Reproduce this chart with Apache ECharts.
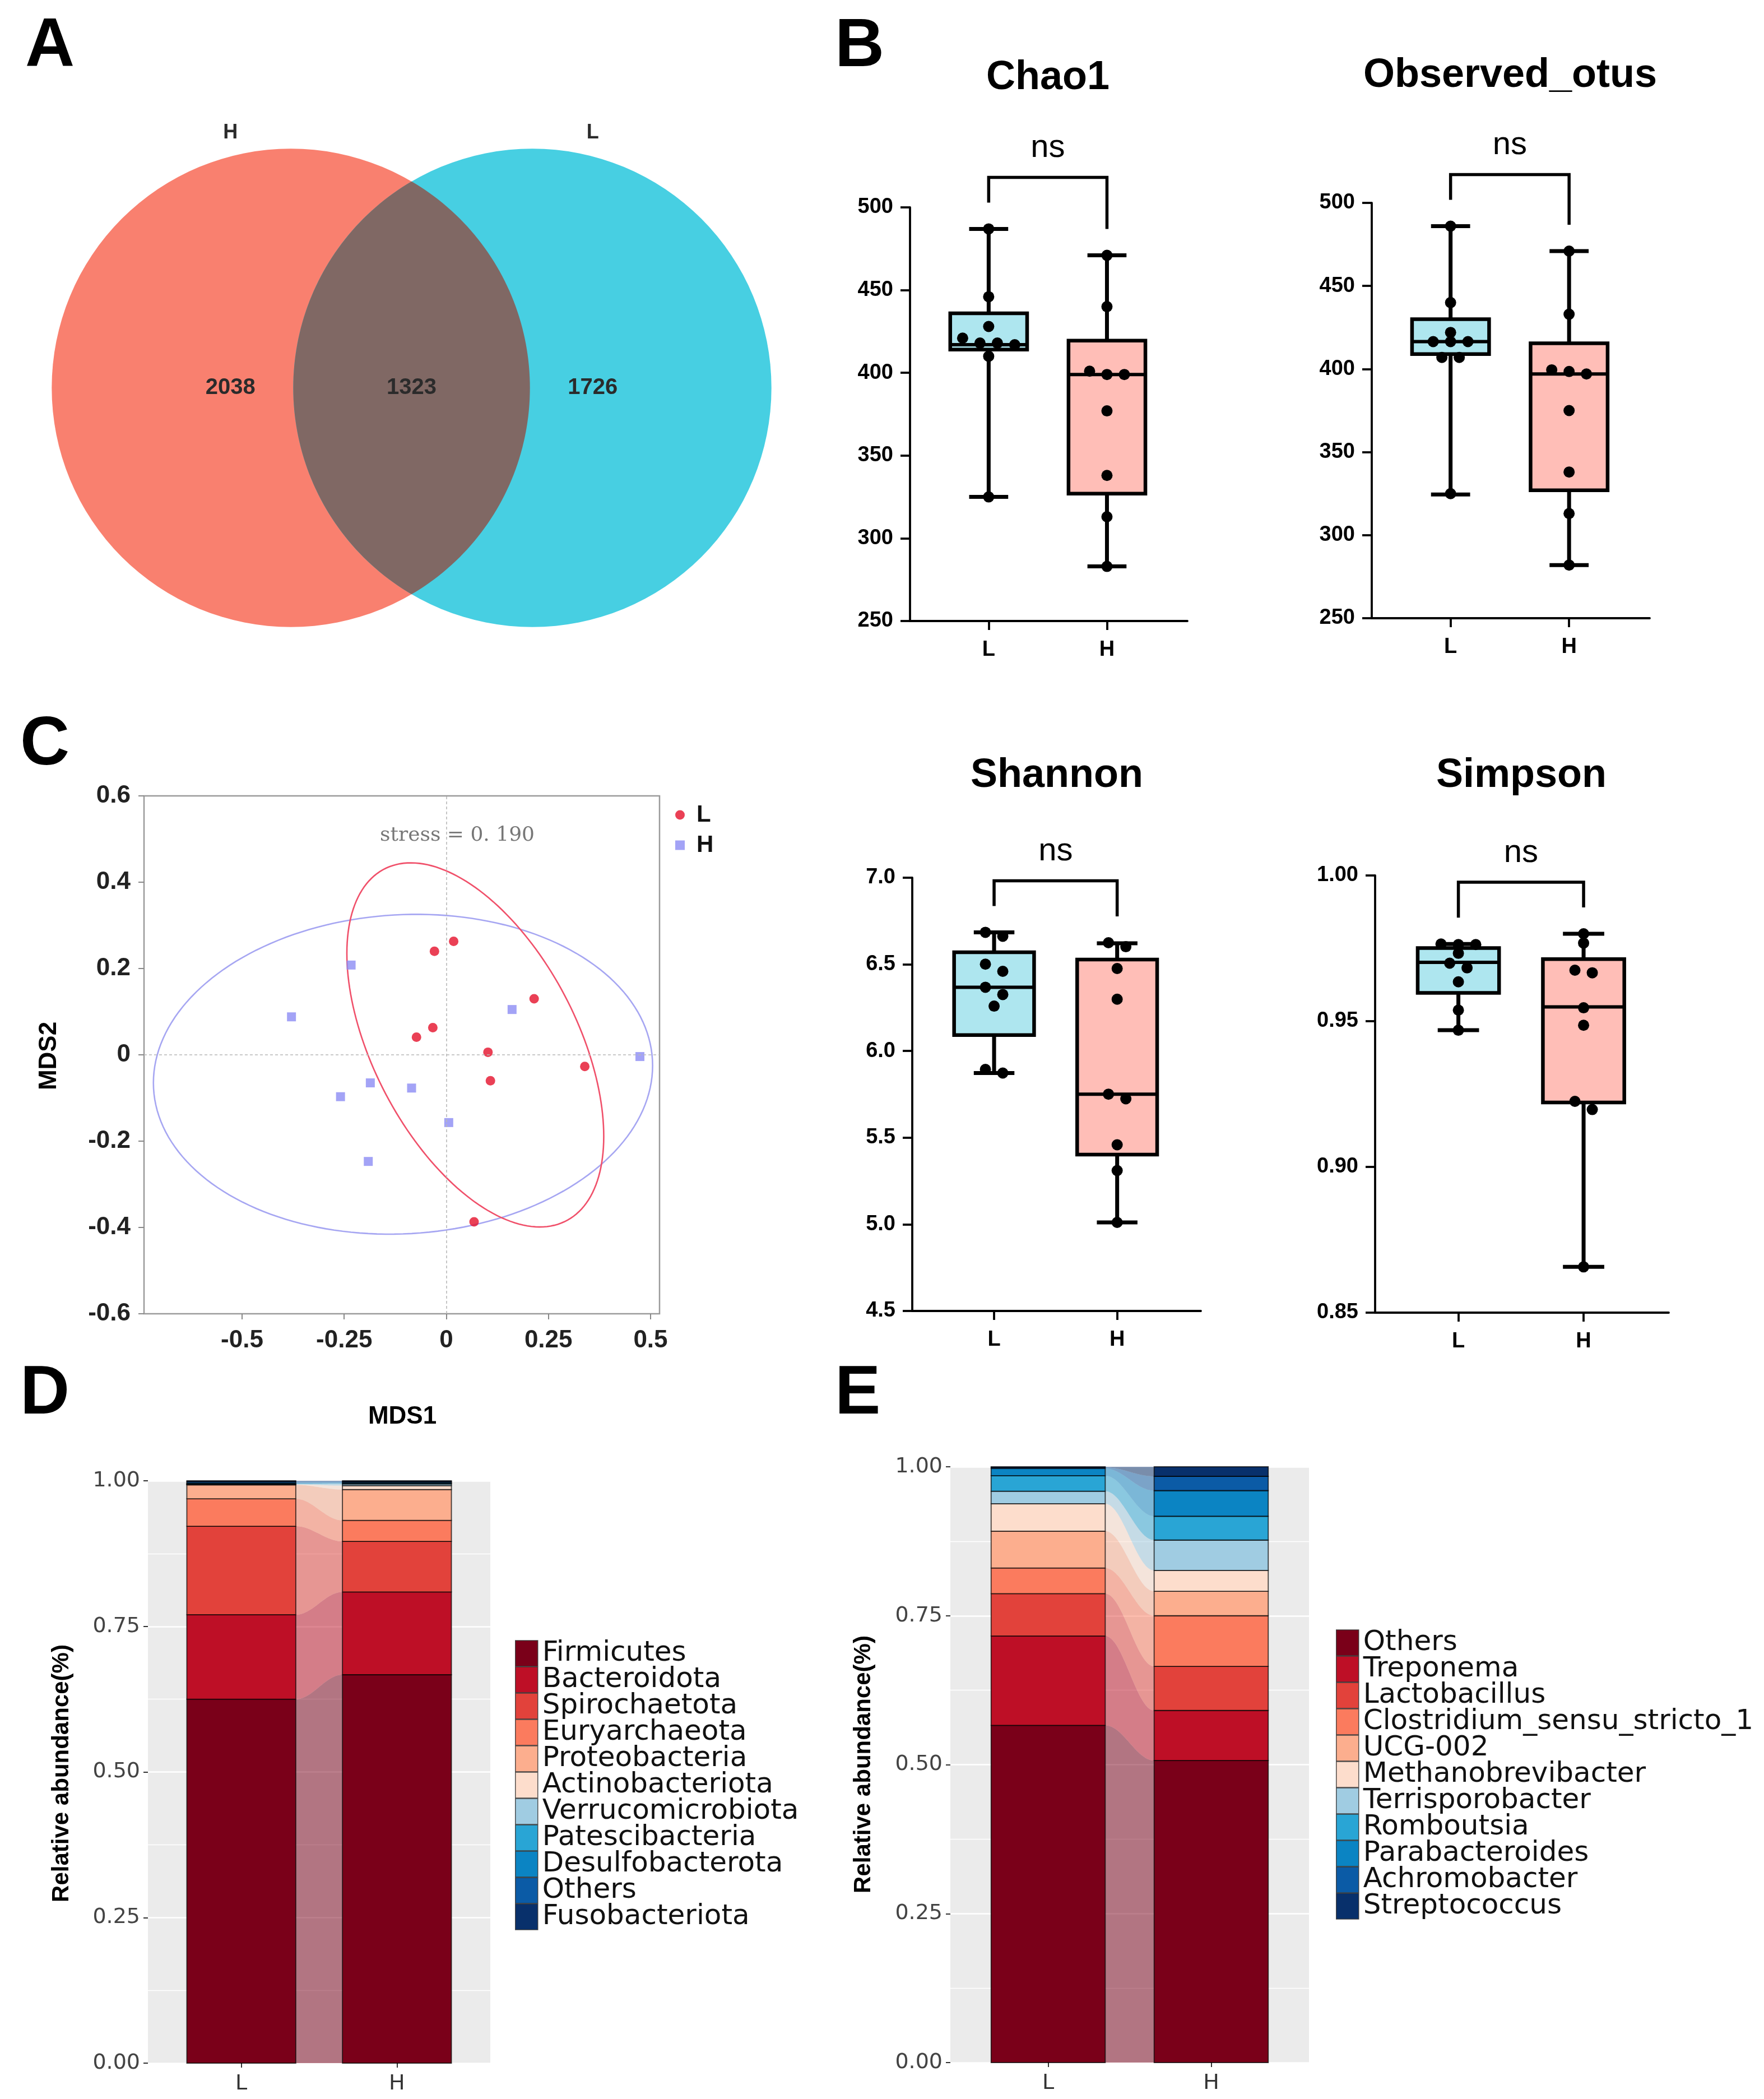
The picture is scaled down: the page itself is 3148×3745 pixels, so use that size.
<!DOCTYPE html>
<html><head><meta charset="utf-8">
<script src="https://cdn.jsdelivr.net/npm/echarts@6/dist/echarts.min.js"></script>
<style>html,body{margin:0;padding:0;background:#fff}#c{width:3148px;height:3745px}</style>
</head><body><div id="c"></div><script>
// ================= DATA =================
const vennSets = ['H', 'L'];
const vennCounts = [2038, 1323, 1726]; // H only, shared, L only

const groups = ['L', 'H'];
// box stats: [min, q1, median, q3, max]
const chaoBox = [[325, 414, 417, 436, 487], [283, 327, 399, 419.5, 471]];
const chaoL = [487, 446, 428, 418, 421, 417, 418, 410, 325];
const chaoH = [471, 440, 399, 401, 399, 377, 338, 313, 283];
const chaoTicks = [250, 300, 350, 400, 450, 500];

const obsBox = [[324.5, 409, 416.5, 430, 486], [282, 327, 397, 415.5, 471]];
const obsL = [486, 440, 422, 416.5, 416.5, 416.5, 407, 407, 325];
const obsH = [471, 433, 397, 399.5, 398.5, 375, 338, 313, 282];
const obsTicks = [250, 300, 350, 400, 450, 500];

const shanBox = [[5.873, 6.092, 6.368, 6.570, 6.685], [5.011, 5.402, 5.751, 6.528, 6.622]];
const shanL = [6.685, 6.662, 6.501, 6.460, 6.368, 6.326, 6.259, 5.894, 5.873];
const shanH = [6.625, 6.602, 6.476, 6.299, 5.751, 5.724, 5.459, 5.310, 5.011];
const shanTicks = [4.5, 5.0, 5.5, 6.0, 6.5, 7.0];

const simpBox = [[0.9469, 0.9597, 0.9702, 0.9751, 0.9765], [0.8657, 0.9221, 0.9549, 0.9713, 0.980]];
const simpL = [0.9765, 0.9763, 0.9763, 0.9733, 0.9699, 0.9683, 0.9635, 0.9538, 0.9469];
const simpH = [0.980, 0.9768, 0.9675, 0.9666, 0.9546, 0.9486, 0.9225, 0.9197, 0.8657];
const simpTicks = [0.85, 0.90, 0.95, 1.00];

const nmdsL = [[0.018, 0.263], [-0.029, 0.24], [0.215, 0.13], [-0.033, 0.063], [-0.073, 0.041],
               [0.102, 0.006], [0.108, -0.06], [0.339, -0.027], [0.068, -0.387]];
const nmdsH = [[-0.233, 0.208], [-0.379, 0.088], [0.161, 0.105], [0.474, -0.004], [-0.186, -0.065],
               [-0.085, -0.077], [-0.259, -0.097], [0.006, -0.157], [-0.191, -0.247]];
// ellipse: [cx, cy, axis1x, axis1y, axis2x, axis2y]
const ellipseL = [0.071, 0.023, 0.210, -0.413, 0.234, 0.086];
const ellipseH = [-0.106, -0.045, 0.611, 0.02, 0.0, 0.37];
const nmdsXTicks = [-0.5, -0.25, 0, 0.25, 0.5];
const nmdsYTicks = [-0.6, -0.4, -0.2, 0, 0.2, 0.4, 0.6];
const stressText = 'stress = 0. 190';

const phylaNames = ['Firmicutes', 'Bacteroidota', 'Spirochaetota', 'Euryarchaeota', 'Proteobacteria',
  'Actinobacteriota', 'Verrucomicrobiota', 'Patescibacteria', 'Desulfobacterota', 'Others', 'Fusobacteriota'];
const phylaL = [0.625, 0.145, 0.152, 0.047, 0.024, 0.0008, 0.0004, 0.0008, 0.0015, 0.0025, 0.001];
const phylaH = [0.667, 0.142, 0.087, 0.036, 0.053, 0.0067, 0.003, 0.0008, 0.0015, 0.002, 0.001];

const genusNames = ['Others', 'Treponema', 'Lactobacillus', 'Clostridium_sensu_stricto_1', 'UCG-002',
  'Methanobrevibacter', 'Terrisporobacter', 'Romboutsia', 'Parabacteroides', 'Achromobacter', 'Streptococcus'];
const genusL = [0.566, 0.150, 0.071, 0.043, 0.062, 0.046, 0.021, 0.026, 0.012, 0.002, 0.001];
const genusH = [0.507, 0.084, 0.074, 0.085, 0.041, 0.035, 0.051, 0.040, 0.043, 0.024, 0.016];
const abundTicks = [0, 0.25, 0.5, 0.75, 1];

const palette = ['#7A0019', '#BE0F26', '#E2423B', '#FB7B5E', '#FCAE8E', '#FDDDCC',
  '#A0CCE2', '#29A5D5', '#0B84C3', '#0B5BA6', '#08306B'];

// ================= STYLE / LAYOUT =================
const SANS = "'Liberation Sans', Arial, sans-serif";
const GG = "'DejaVu Sans', sans-serif";
const boxFills = ['#AEE6EF', '#FFBEB7'];
const BOX_W = 0.65, CAP_W = 0.33, PT_R = 10;
const BAR_W = 0.7;

const chart = echarts.init(document.getElementById('c'), null, {renderer: 'canvas'});

function swarmOffsets(ys, thr, gap) {
  const idx = ys.map((y, i) => i).sort((a, b) => ys[a] - ys[b]);
  const off = new Array(ys.length).fill(0);
  let row = [], anchor = null;
  const flush = () => { const k = row.length; row.forEach((id, j) => { off[id] = (j - (k - 1) / 2) * gap; }); };
  idx.forEach(i => {
    if (anchor === null || Math.abs(ys[i] - anchor) <= thr) { if (anchor === null) anchor = ys[i]; row.push(i); }
    else { flush(); row = [i]; anchor = ys[i]; }
  });
  flush();
  return off;
}

function textEl(x, y, text, font, extra) {
  extra = extra || {};
  const align = extra.align || 'center', va = extra.va || 'middle';
  return {type: 'text', x: x, y: y, rotation: extra.rot || 0, z: 100,
    style: {text: text, font: font, fill: extra.fill || '#000', align: align, verticalAlign: va,
      textAlign: align, textVerticalAlign: va}};
}

const grids = [], xAxes = [], yAxes = [], series = [];

// ---------- Panel A: Venn ----------
grids.push({left: 88, top: 261, width: 1293, height: 862});
xAxes.push({gridIndex: 0, type: 'value', min: -1.5, max: 1.5, show: false});
yAxes.push({gridIndex: 0, type: 'value', min: -1, max: 1, show: false});
const VENN_R = 0.99, VENN_NX = 0.75, VENN_LY = 1.056;
series.push({type: 'custom', xAxisIndex: 0, yAxisIndex: 0, clip: false, data: [[0, 0]],
  renderItem: function (p, api) {
    const cL = api.coord([-0.5, 0]), cR = api.coord([0.5, 0]);
    const r = api.size([VENN_R, 0])[0];
    const a = (cR[0] - cL[0]) / 2;
    const ang = Math.acos(a / r);
    const lens = [];
    const N = 90;
    for (let i = 0; i <= N; i++) { const t = Math.PI - ang + 2 * ang * i / N; lens.push([cR[0] + r * Math.cos(t), cR[1] + r * Math.sin(t)]); }
    for (let i = 0; i <= N; i++) { const t = -ang + 2 * ang * i / N; lens.push([cL[0] + r * Math.cos(t), cL[1] + r * Math.sin(t)]); }
    const numPos = [api.coord([-VENN_NX, 0]), api.coord([0, 0]), api.coord([VENN_NX, 0])];
    const labPos = [api.coord([-VENN_NX, VENN_LY]), api.coord([VENN_NX, VENN_LY])];
    const children = [
      {type: 'circle', shape: {cx: cL[0], cy: cL[1], r: r}, style: {fill: '#F9806F'}},
      {type: 'circle', shape: {cx: cR[0], cy: cR[1], r: r}, style: {fill: '#47CFE2'}},
      {type: 'polygon', shape: {points: lens}, style: {fill: '#806864'}}
    ];
    vennCounts.forEach((c, i) => children.push({type: 'text', style: {text: String(c), x: numPos[i][0], y: numPos[i][1],
      font: 'bold 40px ' + SANS, fill: '#2b2b2b', align: 'center', verticalAlign: 'middle', textAlign: 'center', textVerticalAlign: 'middle'}}));
    vennSets.forEach((s, i) => children.push({type: 'text', style: {text: s, x: labPos[i][0], y: labPos[i][1],
      font: 'bold 36px ' + SANS, fill: '#2b2b2b', align: 'center', verticalAlign: 'middle', textAlign: 'center', textVerticalAlign: 'middle'}}));
    return {type: 'group', children: children};
  }});

// ---------- Panel B: boxplots ----------
function addBoxPanel(rect, box, ptsL, ptsH, ticks, fmt) {
  const idx = grids.length;
  grids.push(rect);
  xAxes.push({gridIndex: idx, type: 'value', min: -0.665, max: 1.68,
    axisLine: {show: true, onZero: false, lineStyle: {color: '#000', width: 3.8}},
    axisTick: {show: true, customValues: [0, 1], length: 16, lineStyle: {color: '#000', width: 3.8}},
    axisLabel: {show: true, customValues: [0, 1], formatter: v => groups[Math.round(v)], margin: 33,
      fontFamily: SANS, fontWeight: 'bold', fontSize: 38, color: '#000'},
    splitLine: {show: false}});
  yAxes.push({gridIndex: idx, type: 'value', min: ticks[0], max: ticks[ticks.length - 1],
    axisLine: {show: true, onZero: false, lineStyle: {color: '#000', width: 3.8}},
    axisTick: {show: true, customValues: ticks, length: 17, lineStyle: {color: '#000', width: 3.8}},
    axisLabel: {show: true, customValues: ticks, formatter: fmt, margin: 30,
      fontFamily: SANS, fontWeight: 'bold', fontSize: 38, color: '#000'},
    splitLine: {show: false}});
  series.push({type: 'custom', xAxisIndex: idx, yAxisIndex: idx, clip: false, z: 2,
    data: box.map((b, i) => [i].concat(b)),
    renderItem: function (p, api) {
      const x = api.value(0);
      const mn = api.value(1), q1 = api.value(2), md = api.value(3), q3 = api.value(4), mx = api.value(5);
      const tl = api.coord([x - BOX_W / 2, q3]), br = api.coord([x + BOX_W / 2, q1]);
      const cx = api.coord([x, md])[0];
      const yMin = api.coord([x, mn])[1], yMax = api.coord([x, mx])[1], yMed = api.coord([x, md])[1];
      const ch = api.size([CAP_W / 2, 0])[0];
      const ls = {stroke: '#000', lineWidth: 7};
      return {type: 'group', children: [
        {type: 'line', shape: {x1: cx, y1: yMax, x2: cx, y2: yMin}, style: ls},
        {type: 'line', shape: {x1: cx - ch, y1: yMax, x2: cx + ch, y2: yMax}, style: ls},
        {type: 'line', shape: {x1: cx - ch, y1: yMin, x2: cx + ch, y2: yMin}, style: ls},
        {type: 'rect', shape: {x: tl[0], y: tl[1], width: br[0] - tl[0], height: br[1] - tl[1]},
          style: {fill: boxFills[x], stroke: '#000', lineWidth: 6.5}},
        {type: 'line', shape: {x1: tl[0], y1: yMed, x2: br[0], y2: yMed}, style: {stroke: '#000', lineWidth: 6}}
      ]};
    }});
  const all = [ptsL, ptsH];
  const pdata = [];
  ptsL.forEach(v => pdata.push([0, v]));
  ptsH.forEach(v => pdata.push([1, v]));
  series.push({type: 'custom', xAxisIndex: idx, yAxisIndex: idx, clip: false, z: 5, data: pdata,
    renderItem: function (p, api) {
      const g = api.value(0);
      const arr = all[g];
      const k = g === 0 ? p.dataIndex : p.dataIndex - ptsL.length;
      const ys = arr.map(v => api.coord([g, v])[1]);
      const off = swarmOffsets(ys, 15.5, 31);
      const c = api.coord([g, api.value(1)]);
      return {type: 'circle', shape: {cx: c[0] + off[k], cy: c[1], r: PT_R}, style: {fill: '#000'}};
    }});
  series.push({type: 'custom', xAxisIndex: idx, yAxisIndex: idx, clip: false, z: 5, data: [[0.5, 0]],
    renderItem: function (p, api) {
      const topL = Math.max.apply(null, ptsL.concat([box[0][4]]));
      const topH = Math.max.apply(null, ptsH.concat([box[1][4]]));
      const pL = api.coord([0, topL]), pH = api.coord([1, topH]);
      const legL = pL[1] - 47, legH = pH[1] - 47;
      const top = Math.min(legL, legH) - 45;
      return {type: 'group', children: [
        {type: 'polyline', shape: {points: [[pL[0], legL], [pL[0], top], [pH[0], top], [pH[0], legH]]},
          style: {stroke: '#000', lineWidth: 5.5, fill: null}},
        {type: 'text', style: {text: 'ns', x: (pL[0] + pH[0]) / 2, y: top - 52, font: '58px ' + SANS, fill: '#000',
          align: 'center', verticalAlign: 'middle', textAlign: 'center', textVerticalAlign: 'middle'}}
      ]};
    }});
}
addBoxPanel({left: 1624, top: 370, width: 495, height: 738}, chaoBox, chaoL, chaoH, chaoTicks, v => String(v));
addBoxPanel({left: 2448, top: 362, width: 496, height: 741}, obsBox, obsL, obsH, obsTicks, v => String(v));
addBoxPanel({left: 1628, top: 1566, width: 515, height: 773}, shanBox, shanL, shanH, shanTicks, v => v.toFixed(1));
addBoxPanel({left: 2454, top: 1562, width: 524, height: 780}, simpBox, simpL, simpH, simpTicks, v => v.toFixed(2));

// ---------- Panel C: NMDS ----------
const cIdx = grids.length;
grids.push({left: 257, top: 1420, width: 920, height: 924, show: true, borderColor: '#9a9a9a', borderWidth: 2.5});
xAxes.push({gridIndex: cIdx, type: 'value', min: -0.74, max: 0.522,
  axisLine: {show: false, onZero: false},
  axisTick: {show: true, customValues: nmdsXTicks, length: 10, lineStyle: {color: '#888', width: 2}},
  axisLabel: {show: true, customValues: nmdsXTicks, formatter: v => (Math.abs(v) < 1e-9 ? '0' : String(v)), margin: 26,
    fontFamily: SANS, fontWeight: 'bold', fontSize: 44, color: '#222'},
  splitLine: {show: false}});
yAxes.push({gridIndex: cIdx, type: 'value', min: -0.6, max: 0.6,
  axisLine: {show: false, onZero: false},
  axisTick: {show: true, customValues: nmdsYTicks, length: 10, lineStyle: {color: '#888', width: 2}},
  axisLabel: {show: true, customValues: nmdsYTicks, formatter: v => (Math.abs(v) < 1e-9 ? '0' : v.toFixed(1)), margin: 24,
    fontFamily: SANS, fontWeight: 'bold', fontSize: 44, color: '#222'},
  splitLine: {show: false}});
function ellipseSeries(e, color) {
  return {type: 'custom', xAxisIndex: cIdx, yAxisIndex: cIdx, z: 2, data: [[e[0], e[1]]],
    renderItem: function (p, api) {
      const pts = [];
      for (let k = 0; k <= 180; k++) {
        const t = 2 * Math.PI * k / 180;
        pts.push(api.coord([e[0] + Math.cos(t) * e[2] + Math.sin(t) * e[4], e[1] + Math.cos(t) * e[3] + Math.sin(t) * e[5]]));
      }
      return {type: 'polyline', shape: {points: pts}, style: {stroke: color, lineWidth: 2.6, fill: null}};
    }};
}
series.push(ellipseSeries(ellipseH, '#A6A6F2'));
series.push(ellipseSeries(ellipseL, '#F0506A'));
series.push({type: 'scatter', name: 'L', xAxisIndex: cIdx, yAxisIndex: cIdx, z: 4, data: nmdsL,
  symbol: 'circle', symbolSize: 17, itemStyle: {color: '#E5102B'},
  markLine: {silent: true, symbol: 'none', label: {show: false}, animation: false,
    lineStyle: {color: '#b8b8b8', type: [5, 4], width: 1.6}, data: [{xAxis: 0}, {yAxis: 0}]}});
series.push({type: 'scatter', name: 'H', xAxisIndex: cIdx, yAxisIndex: cIdx, z: 4, data: nmdsH,
  symbol: 'rect', symbolSize: 16, itemStyle: {color: '#8C8CF4'}});

// ---------- Panels D & E: alluvial stacked bars ----------
function renderFlow(p, api) {
  const color = api.visual('color');
  const bL = api.value(0), tL = api.value(1), bH = api.value(2), tH = api.value(3);
  const hw = BAR_W / 2;
  const a0 = api.coord([0 - hw, tL]), a1 = api.coord([0 + hw, bL]);
  const b0 = api.coord([1 - hw, tH]), b1 = api.coord([1 + hw, bH]);
  const x0 = a1[0], x1 = b0[0];
  const top = [], bot = [];
  const N = 40;
  for (let i = 0; i <= N; i++) {
    const t = i / N, s = (1 - Math.cos(Math.PI * t)) / 2, x = x0 + (x1 - x0) * t;
    top.push([x, a0[1] + (b0[1] - a0[1]) * s]);
    bot.push([x, a1[1] + (b1[1] - a1[1]) * s]);
  }
  const poly = top.concat(bot.reverse());
  const edge = {stroke: 'rgba(0,0,0,0.72)', lineWidth: 1.8};
  return {type: 'group', children: [
    {type: 'polygon', shape: {points: poly}, style: {fill: color, opacity: 0.5}},
    {type: 'rect', shape: {x: a0[0], y: a0[1], width: a1[0] - a0[0], height: a1[1] - a0[1]}, style: Object.assign({fill: color}, edge)},
    {type: 'rect', shape: {x: b0[0], y: b0[1], width: b1[0] - b0[0], height: b1[1] - b0[1]}, style: Object.assign({fill: color}, edge)}
  ]};
}
function addFlowPanel(rect, names, vL, vH) {
  const idx = grids.length;
  grids.push(Object.assign({show: true, backgroundColor: '#EBEBEB', borderWidth: 0}, rect));
  xAxes.push({gridIndex: idx, type: 'value', min: -0.6, max: 1.6,
    axisLine: {show: false, onZero: false},
    axisTick: {show: true, customValues: [0, 1], length: 8, lineStyle: {color: '#333', width: 2}},
    axisLabel: {show: true, customValues: [0, 1], formatter: v => groups[Math.round(v)], margin: 18,
      fontFamily: GG, fontSize: 38, color: '#333'},
    splitLine: {show: false}});
  yAxes.push({gridIndex: idx, type: 'value', min: abundTicks[0], max: abundTicks[abundTicks.length - 1], interval: 0.25,
    axisLine: {show: false, onZero: false},
    axisTick: {show: true, length: 8, lineStyle: {color: '#333', width: 2}},
    axisLabel: {show: true, formatter: v => v.toFixed(2), margin: 14, fontFamily: GG, fontSize: 38, color: '#444'},
    splitLine: {show: true, lineStyle: {color: '#fff', width: 2.6}},
    minorTick: {show: false, splitNumber: 2},
    minorSplitLine: {show: true, lineStyle: {color: '#fff', width: 1.3}}});
  let cL = 0, cH = 0;
  names.forEach((n, i) => {
    const d = [cL, cL + vL[i], cH, cH + vH[i]];
    cL += vL[i]; cH += vH[i];
    series.push({type: 'custom', name: n, xAxisIndex: idx, yAxisIndex: idx, z: 3,
      itemStyle: {color: palette[i]}, data: [d], renderItem: renderFlow});
  });
}
addFlowPanel({left: 264, top: 2642, width: 611, height: 1039}, phylaNames, phylaL, phylaH);
addFlowPanel({left: 1696, top: 2617, width: 640, height: 1063}, genusNames, genusL, genusH);

function legendFor(names, left, top) {
  return {left: left, top: top, orient: 'vertical', icon: 'rect', itemWidth: 40, itemHeight: 46, itemGap: -3,
    selectedMode: false,
    textStyle: {fontFamily: GG, fontSize: 50, color: '#111', lineHeight: 46, padding: [0, 0, 0, 3]},
    data: names.map((n, i) => ({name: n, itemStyle: {color: palette[i], borderColor: 'rgba(50,50,50,0.85)', borderWidth: 1.5}}))};
}

const TITLE = 'bold 72px ' + SANS;
const LETTER = 'bold 122px ' + SANS;
const graphics = [
  textEl(45, 84, 'A', LETTER, {align: 'left'}),
  textEl(1490, 84, 'B', LETTER, {align: 'left'}),
  textEl(36, 1330, 'C', LETTER, {align: 'left'}),
  textEl(36, 2488, 'D', LETTER, {align: 'left'}),
  textEl(1490, 2488, 'E', LETTER, {align: 'left'}),
  textEl(1870, 139, 'Chao1', TITLE),
  textEl(2695, 135, 'Observed_otus', TITLE),
  textEl(1886, 1384, 'Shannon', TITLE),
  textEl(2715, 1384, 'Simpson', TITLE),
  textEl(88, 1884, 'MDS2', 'bold 44px ' + SANS, {rot: Math.PI / 2}),
  textEl(718, 2528, 'MDS1', 'bold 44px ' + SANS),
  textEl(678, 1491, stressText, '36px "DejaVu Serif", serif', {align: 'left', fill: '#777'}),
  textEl(110, 3164, 'Relative abundance(%)', 'bold 42px ' + SANS, {rot: Math.PI / 2}),
  textEl(1541, 3148, 'Relative abundance(%)', 'bold 42px ' + SANS, {rot: Math.PI / 2})
];

chart.setOption({
  backgroundColor: '#ffffff',
  animation: false,
  grid: grids,
  xAxis: xAxes,
  yAxis: yAxes,
  legend: [
    {left: 1200, top: 1426, orient: 'vertical', itemWidth: 17, itemHeight: 17, itemGap: 8, selectedMode: false,
      textStyle: {fontFamily: SANS, fontWeight: 'bold', fontSize: 42, color: '#111', lineHeight: 46, padding: [0, 0, 0, 16]},
      data: [{name: 'L', icon: 'circle'}, {name: 'H', icon: 'rect'}]},
    legendFor(phylaNames, 914, 2920),
    legendFor(genusNames, 2379, 2901)
  ],
  graphic: {elements: graphics},
  series: series
});
</script></body></html>
